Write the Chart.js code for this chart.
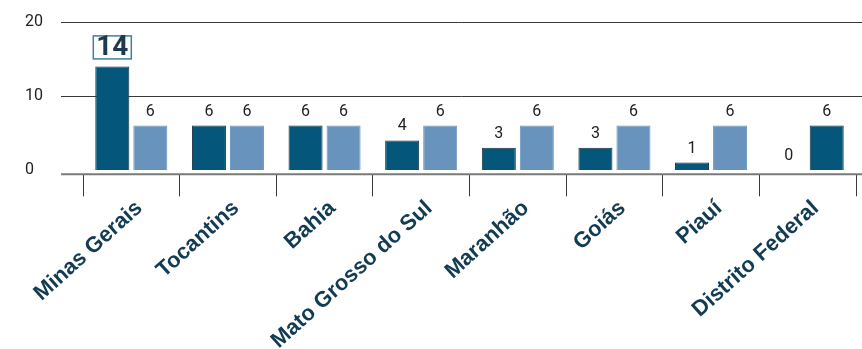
<!DOCTYPE html>
<html lang="pt-BR">
<head>
<meta charset="utf-8">
<title>Estados</title>
<script src="https://cdn.jsdelivr.net/npm/chart.js@4.4.1/dist/chart.umd.min.js"></script>
<style>
  html, body { margin: 0; padding: 0; background: #ffffff; }
  #wrap { width: 862px; height: 349px; position: relative; }
</style>
</head>
<body>
<div id="wrap"><canvas id="chart"></canvas></div>
<script>
// Categorias e séries
const categories = ['Minas Gerais', 'Tocantins', 'Bahia', 'Mato Grosso do Sul', 'Maranhão', 'Goiás', 'Piauí', 'Distrito Federal'];
const seriesPrimary = [14, 6, 6, 4, 3, 3, 1, 0];
const seriesSecondary = [6, 6, 6, 6, 6, 6, 6, 6];

// Eixo Y
const yTickValues = [0, 10, 20];
const yTickLabels = ['0', '10', '20'];
const yMin = -0.58;
const yMax = 20;

// Cores
const DARK = '#04577a';
const DARK_EDGE = '#16303e';
const LIGHT = '#6893bd';
const TEXT = '#222222';
const LABEL = '#123c53';

// O Distrito Federal usa a cor escura na segunda barra
const secondaryFill = categories.map(c => c === 'Distrito Federal' ? DARK : LIGHT);
const secondaryEdge = categories.map(c => c === 'Distrito Federal' ? DARK_EDGE : LIGHT);

// Linhas horizontais (grade e eixo) que atravessam toda a largura
const rulesPlugin = {
  id: 'rules',
  beforeDatasetsDraw(chart) {
    const { ctx, chartArea, scales } = chart;
    const y = scales.y;
    const left = chartArea.left - 22;
    const right = chart.width;
    ctx.save();
    yTickValues.filter(v => v !== 0).forEach(v => {
      const py = Math.round(y.getPixelForValue(v)) + 0.5;
      ctx.strokeStyle = '#3a3a3a';
      ctx.lineWidth = 1;
      ctx.beginPath();
      ctx.moveTo(left, py);
      ctx.lineTo(right, py);
      ctx.stroke();
    });
    ctx.strokeStyle = '#7a7a7a';
    ctx.lineWidth = 2;
    ctx.beginPath();
    ctx.moveTo(left, chartArea.bottom);
    ctx.lineTo(right, chartArea.bottom);
    ctx.stroke();
    ctx.restore();
  }
};

// Rótulos de valor acima das barras; o maior valor ganha destaque em caixa
const valueLabelsPlugin = {
  id: 'valueLabels',
  afterDatasetsDraw(chart) {
    const { ctx } = chart;
    const peak = Math.max(...seriesPrimary);
    ctx.save();
    ctx.textAlign = 'center';
    ctx.textBaseline = 'middle';
    chart.data.datasets.forEach((ds, di) => {
      const meta = chart.getDatasetMeta(di);
      meta.data.forEach((bar, i) => {
        const v = ds.data[i];
        const text = String(v);
        if (di === 0 && v === peak) {
          const cy = bar.y - 19;
          const w = 38, h = 23;
          ctx.fillStyle = '#ffffff';
          ctx.fillRect(bar.x - w / 2, cy - h / 2, w, h);
          ctx.strokeStyle = '#3f819c';
          ctx.lineWidth = 1.5;
          ctx.strokeRect(bar.x - w / 2, cy - h / 2, w, h);
          ctx.fillStyle = '#1d3b4e';
          ctx.font = 'bold 28px Roboto, "Liberation Sans", sans-serif';
          ctx.fillText(text, bar.x, cy + 1);
        } else {
          ctx.fillStyle = TEXT;
          ctx.font = '16px Roboto, "Liberation Sans", sans-serif';
          ctx.fillText(text, bar.x, bar.y - 14);
        }
      });
    });
    ctx.restore();
  }
};

new Chart(document.getElementById('chart'), {
  type: 'bar',
  data: {
    labels: categories,
    datasets: [
      {
        label: 'Série 1',
        data: seriesPrimary,
        backgroundColor: DARK,
        borderColor: DARK_EDGE,
        borderWidth: 1,
        categoryPercentage: 0.787,
        barPercentage: 0.895
      },
      {
        label: 'Série 2',
        data: seriesSecondary,
        backgroundColor: secondaryFill,
        borderColor: secondaryEdge,
        borderWidth: 1,
        categoryPercentage: 0.787,
        barPercentage: 0.895
      }
    ]
  },
  options: {
    responsive: true,
    maintainAspectRatio: false,
    animation: false,
    events: [],
    layout: { padding: { left: 25, right: 6, top: 22, bottom: 0 } },
    plugins: {
      legend: { display: false },
      tooltip: { enabled: false }
    },
    scales: {
      x: {
        offset: true,
        border: { display: false },
        grid: {
          offset: true,
          drawOnChartArea: false,
          drawTicks: true,
          tickLength: 22,
          tickColor: '#3a3a3a',
          lineWidth: 1
        },
        ticks: {
          minRotation: 42,
          maxRotation: 42,
          autoSkip: false,
          padding: -1,
          labelOffset: 8,
          color: LABEL,
          font: { family: '"Liberation Sans", Arial, sans-serif', size: 22, weight: 'bold' }
        },
        afterFit(scale) { scale.height = 174.7; }
      },
      y: {
        min: yMin,
        max: yMax,
        border: { display: false },
        grid: { display: false },
        afterBuildTicks(scale) {
          scale.ticks = yTickValues.map(v => ({ value: v }));
        },
        afterFit(scale) { scale.width = 58; },
        ticks: {
          crossAlign: 'far',
          padding: 0,
          color: TEXT,
          font: { family: 'Roboto, "Liberation Sans", sans-serif', size: 16 },
          callback(value) {
            const i = yTickValues.indexOf(value);
            return i >= 0 ? yTickLabels[i] : '';
          }
        }
      }
    }
  },
  plugins: [rulesPlugin, valueLabelsPlugin]
});
</script>
</body>
</html>
